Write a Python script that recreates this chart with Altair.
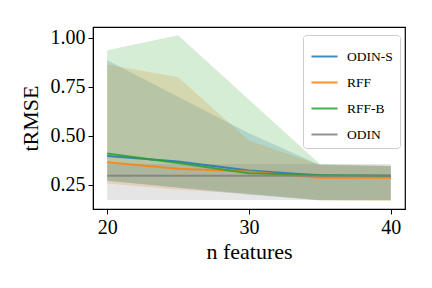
import altair as alt
import pandas as pd

x_vals = [20, 25, 30, 35, 40]
series = ["ODIN-S", "RFF", "RFF-B", "ODIN"]
colors = ["#1f77b4", "#ff7f0e", "#2ca02c", "#7f7f7f"]

odin_s_mean = [0.398, 0.369, 0.323, 0.298, 0.297]
odin_s_lo = [0.272, 0.235, 0.200, 0.173, 0.173]
odin_s_hi = [0.886, 0.700, 0.514, 0.352, 0.347]

rff_mean = [0.366, 0.332, 0.318, 0.287, 0.286]
rff_lo = [0.257, 0.225, 0.205, 0.172, 0.168]
rff_hi = [0.864, 0.800, 0.477, 0.352, 0.347]

rffb_mean = [0.410, 0.362, 0.310, 0.300, 0.297]
rffb_lo = [0.270, 0.237, 0.205, 0.170, 0.170]
rffb_hi = [0.937, 1.014, 0.685, 0.357, 0.347]

odin_mean = [0.297, 0.297, 0.297, 0.297, 0.297]
odin_lo = [0.173, 0.173, 0.173, 0.173, 0.173]
odin_hi = [0.357, 0.357, 0.357, 0.357, 0.357]

rows = []
for name, m, lo, hi in [
    ("ODIN-S", odin_s_mean, odin_s_lo, odin_s_hi),
    ("RFF", rff_mean, rff_lo, rff_hi),
    ("RFF-B", rffb_mean, rffb_lo, rffb_hi),
    ("ODIN", odin_mean, odin_lo, odin_hi),
]:
    for i, xv in enumerate(x_vals):
        rows.append({"series": name, "x": xv, "mean": m[i], "lo": lo[i], "hi": hi[i],
                     "order": series.index(name)})
df = pd.DataFrame(rows)

FONT = "Liberation Serif"

xenc = alt.X("x:Q", scale=alt.Scale(domain=[19, 41], nice=False, zero=False),
             axis=alt.Axis(values=[20, 30, 40], title="n features", format="d"))
color = alt.Color("series:N", scale=alt.Scale(domain=series, range=colors),
                  sort=series,
                  legend=alt.Legend(title=None, orient="none", legendX=210, legendY=8,
                                    symbolType="stroke", symbolStrokeWidth=2,
                                    symbolSize=680, labelFontSize=13.5, labelFont=FONT,
                                    labelOffset=8,
                                    rowPadding=5, padding=7, strokeColor="#cccccc",
                                    fillColor="white", cornerRadius=3,
                                    symbolOpacity=0.85))

base = alt.Chart(df)
band = base.mark_area(opacity=0.2, line=False).encode(
    x=xenc,
    y=alt.Y("lo:Q", scale=alt.Scale(domain=[0.127, 1.056], nice=False, zero=False),
            axis=alt.Axis(values=[0.25, 0.5, 0.75, 1.0], format=".2f", title="tRMSE")),
    y2="hi:Q",
    color=color,
    order=alt.Order("order:Q"),
)
line = base.mark_line(strokeWidth=2, opacity=0.85).encode(
    x=xenc,
    y="mean:Q",
    color=color,
    order=alt.Order("x:Q"),
)

chart = alt.layer(band, line).properties(
    width=312, height=182,
    autosize=alt.AutoSizeParams(type="none"),
    padding={"left": 85, "top": 19, "right": 19, "bottom": 71},
).configure_view(stroke="black", strokeWidth=1.2).configure_axis(
    labelFont=FONT, titleFont=FONT, labelFontSize=20, titleFontSize=22,
    labelColor="black", titleColor="black", titleFontWeight="normal",
    grid=False, domainColor="black", tickColor="black", tickSize=5,
    labelPadding=3,
).configure_axisX(titlePadding=4).configure_axisY(titlePadding=8).configure_legend(
    labelFont=FONT, labelColor="black"
)

chart.save("out.html", embed_options={"renderer": "svg", "actions": False})
